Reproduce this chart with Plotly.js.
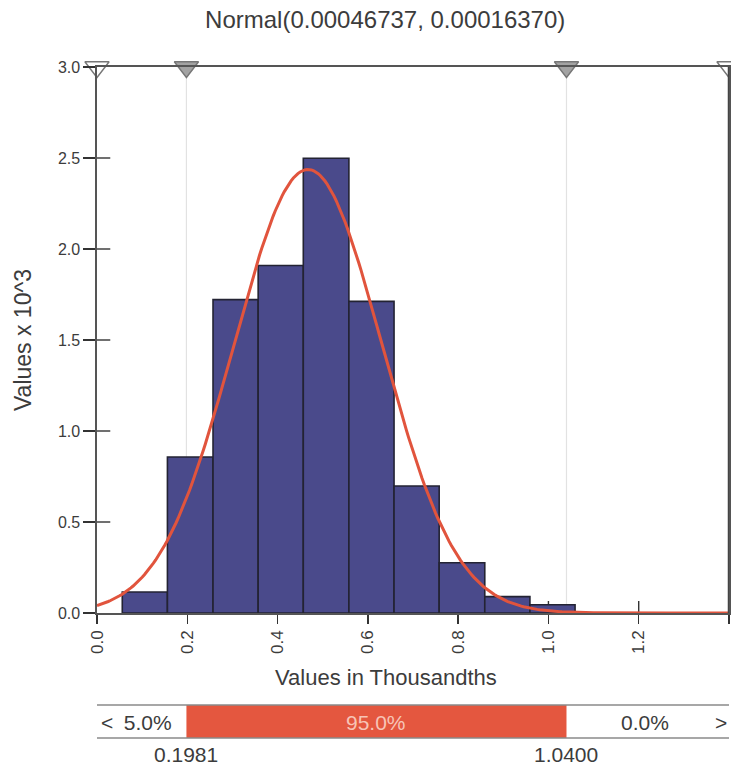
<!DOCTYPE html>
<html>
<head>
<meta charset="utf-8">
<script src="https://cdn.plot.ly/plotly-3.0.1.min.js"></script>
<style>
  html, body { margin: 0; padding: 0; background: #fff; overflow: hidden; }
  #chart { width: 731px; height: 768px; }
</style>
</head>
<body>
<div id="chart"></div>
<script>
// Fitted distribution (values in thousandths)
const chartTitle = 'Normal(0.00046737, 0.00016370)';
const fitMean = 0.46737;
const fitSd = 0.16370;

// Histogram bins (edges) and bar heights (density x 10^3)
const binEdges = [0.056, 0.156, 0.257, 0.357, 0.457, 0.558, 0.658, 0.758, 0.859, 0.959, 1.059];
const binHeights = [0.115, 0.857, 1.722, 1.909, 2.499, 1.712, 0.698, 0.276, 0.090, 0.045];

// Axis ticks
const xTickVals = [0, 0.2, 0.4, 0.6, 0.8, 1.0, 1.2, 1.4];
const xTickText = ['0.0', '0.2', '0.4', '0.6', '0.8', '1.0', '1.2', '1.4'];
const yTickVals = [0, 0.5, 1.0, 1.5, 2.0, 2.5, 3.0];
const yTickText = ['0.0', '0.5', '1.0', '1.5', '2.0', '2.5', '3.0'];

// Delimiter sliders along the top edge
const sliderX = [0, 0.1981, 1.0400, 1.4];
const sliderFill = ['#ffffff', '#a3a3a3', '#a3a3a3', '#ffffff'];

// Probability strip underneath
const delimiters = [0.1981, 1.0400];
const delimiterText = ['0.1981', '1.0400'];
const pctLeft = '5.0%';
const pctMid = '95.0%';
const pctRight = '0.0%';

const font = 'Liberation Sans, Arial, Helvetica, sans-serif';
const textColor = '#3c3c3c';
const xMax = 1.4;
const yMax = 3.0;

// bar centres / widths from the bin edges
const barX = [], barW = [];
for (let i = 0; i < binHeights.length; i++) {
  barX.push((binEdges[i] + binEdges[i + 1]) / 2);
  barW.push(binEdges[i + 1] - binEdges[i]);
}

// fitted normal density from the stated parameters
const curveX = [], curveY = [];
for (let i = 0; i <= 280; i++) {
  const x = i * xMax / 280;
  const z = (x - fitMean) / fitSd;
  curveX.push(x);
  curveY.push(Math.exp(-0.5 * z * z) / (fitSd * Math.sqrt(2 * Math.PI)));
}

const traces = [
  {
    type: 'bar', x: barX, y: binHeights, width: barW,
    marker: { color: '#4a4a8b', line: { color: '#232333', width: 1.6 } },
    hoverinfo: 'skip'
  },
  {
    type: 'scatter', mode: 'lines', x: curveX, y: curveY,
    line: { color: '#e1543d', width: 3 },
    hoverinfo: 'skip'
  },
  {
    type: 'scatter', mode: 'markers', x: sliderX, y: sliderX.map(() => yMax),
    marker: { symbol: 'triangle-down', size: 21, color: sliderFill, line: { color: '#777', width: 1.4 } },
    cliponaxis: false, hoverinfo: 'skip'
  }
];

// plot area spans 546px vertically; strip positions in paper units
const plotH = 546;
const py = px => -px / plotH;  // px below the x axis -> paper y

const shapes = [];
// faint delimiter lines
delimiters.forEach(d => shapes.push({
  type: 'line', xref: 'x', yref: 'paper', x0: d, x1: d, y0: 0, y1: 1,
  line: { color: '#e2e2e2', width: 1.2 }, layer: 'below'
}));
// darker right-hand edge
shapes.push({
  type: 'line', xref: 'x', yref: 'paper', x0: xMax, x1: xMax, y0: 0, y1: 1,
  line: { color: '#444', width: 2.5 }
});
// tick marks that cross into the plot
yTickVals.filter(v => v > 0 && v < yMax).forEach(v => shapes.push({
  type: 'line', xref: 'paper', yref: 'y', x0: 0, x1: 0.021, y0: v, y1: v,
  line: { color: '#333', width: 1.4 }, layer: 'below'
}));
xTickVals.filter(v => v > 0 && v < xMax).forEach(v => shapes.push({
  type: 'line', xref: 'x', yref: 'paper', x0: v, x1: v, y0: 0, y1: 0.022,
  line: { color: '#333', width: 1.4 }, layer: 'below'
}));
// probability strip
shapes.push({
  type: 'rect', xref: 'x', yref: 'paper', x0: delimiters[0], x1: delimiters[1],
  y0: py(92), y1: py(125), fillcolor: '#e4573f', line: { width: 0 }
});
[92, 125].forEach(d => shapes.push({
  type: 'line', xref: 'x', yref: 'paper', x0: 0, x1: xMax, y0: py(d), y1: py(d),
  line: { color: '#8a8a8a', width: 1.5 }
}));

const stripY = py(109);
const annotations = [
  { text: 'Values in Thousandths', xref: 'paper', yref: 'paper', x: 0.457, y: py(64),
    xanchor: 'center', yanchor: 'middle', showarrow: false, font: { family: font, size: 22, color: textColor } },
  { text: '<\u2002' + pctLeft, xref: 'x', yref: 'paper', x: 0.005, y: stripY,
    xanchor: 'left', yanchor: 'middle', showarrow: false, font: { family: font, size: 21, color: textColor } },
  { text: pctMid, xref: 'x', yref: 'paper', x: (delimiters[0] + delimiters[1]) / 2, y: stripY,
    xanchor: 'center', yanchor: 'middle', showarrow: false, font: { family: font, size: 21, color: '#f7c4b6' } },
  { text: pctRight, xref: 'x', yref: 'paper', x: 1.214, y: stripY,
    xanchor: 'center', yanchor: 'middle', showarrow: false, font: { family: font, size: 21, color: textColor } },
  { text: '>', xref: 'x', yref: 'paper', x: xMax, y: stripY,
    xanchor: 'right', yanchor: 'middle', showarrow: false, font: { family: font, size: 21, color: textColor } }
];
delimiters.forEach((d, i) => annotations.push({
  text: delimiterText[i], xref: 'x', yref: 'paper', x: d, y: py(141),
  xanchor: 'center', yanchor: 'middle', showarrow: false, font: { family: font, size: 21, color: textColor }
}));

const layout = {
  width: 731, height: 768,
  margin: { l: 97, r: 2, t: 67, b: 155 },
  paper_bgcolor: '#ffffff', plot_bgcolor: '#ffffff',
  showlegend: false,
  bargap: 0,
  font: { family: font, color: textColor },
  title: {
    text: chartTitle, xref: 'paper', x: 0.456, xanchor: 'center',
    yref: 'container', y: 1 - 20 / 768, yanchor: 'middle',
    font: { family: font, size: 24, color: textColor }
  },
  xaxis: {
    range: [0, xMax], tickvals: xTickVals, ticktext: xTickText, tickangle: -90,
    ticks: 'outside', ticklen: 9, tickwidth: 1.4, tickcolor: '#333',
    showline: true, mirror: true, linecolor: '#555', linewidth: 1.6,
    showgrid: false, zeroline: false,
    tickfont: { family: font, size: 17, color: textColor }
  },
  yaxis: {
    range: [0, yMax], tickvals: yTickVals, ticktext: yTickText,
    ticks: 'outside', ticklen: 12, tickwidth: 1.4, tickcolor: '#333',
    showline: true, mirror: true, linecolor: '#555', linewidth: 1.6,
    showgrid: false, zeroline: false,
    tickfont: { family: font, size: 16, color: textColor },
    title: { text: 'Values x 10^3', standoff: 20, font: { family: font, size: 23, color: textColor } }
  },
  shapes: shapes,
  annotations: annotations
};

Plotly.newPlot('chart', traces, layout, { displayModeBar: false, staticPlot: true });
</script>
</body>
</html>
